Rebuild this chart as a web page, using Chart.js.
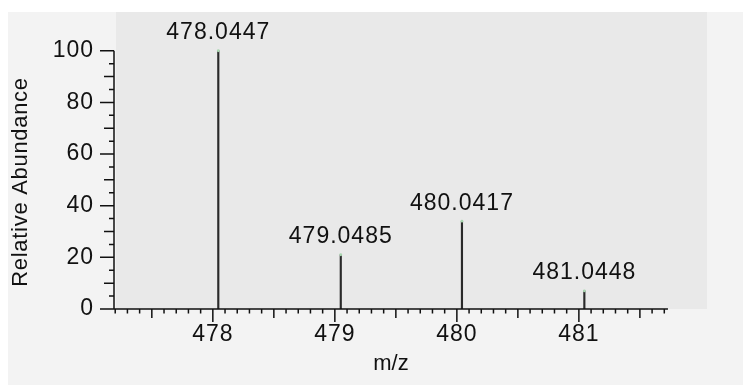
<!DOCTYPE html>
<html>
<head>
<meta charset="utf-8">
<script src="https://cdn.jsdelivr.net/npm/chart.js@4.4.1/dist/chart.umd.min.js"></script>
<style>
  html, body { margin: 0; padding: 0; background: #fff; }
  #wrap { position: relative; width: 743px; height: 385px; }
</style>
</head>
<body>
<div id="wrap"><canvas id="spectrum"></canvas></div>
<script>
// centroided peaks: m/z and relative abundance (%)
const peakMz = [478.0447, 479.0485, 480.0417, 481.0448];
const peakAbundance = [100, 21, 34, 7];

// labelled ticks
const mzTicks = [478, 479, 480, 481];
const abundanceTicks = [0, 20, 40, 60, 80, 100];

// axis extents
const mzMin = 477.19, mzMax = 482.05, mzAxisEnd = 481.73;
const abundanceMax = 115;

const FONT = '"Liberation Sans", Arial, sans-serif';
const INK = '#111111';

// background panels, tick marks, axis lines, titles and peak labels
const spectrumDecor = {
  id: 'spectrumDecor',
  beforeDraw(chart) {
    const ctx = chart.ctx, a = chart.chartArea;
    ctx.letterSpacing = '1px';
    ctx.save();
    ctx.fillStyle = '#ffffff';
    ctx.fillRect(0, 0, chart.width, chart.height);
    ctx.fillStyle = '#f3f3f3';
    ctx.fillRect(8, 12, chart.width - 8, chart.height - 12);
    ctx.fillStyle = '#e9e9e9';
    ctx.fillRect(a.left + 2, a.top, a.right - a.left - 2, a.bottom - a.top);
    ctx.restore();
  },
  afterDraw(chart) {
    const ctx = chart.ctx, a = chart.chartArea;
    const xs = chart.scales.x, ys = chart.scales.y;
    ctx.save();
    ctx.strokeStyle = INK;
    ctx.lineWidth = 1.5;
    ctx.beginPath();
    // y axis: 0..100, ticks every 5
    const yAxisX = a.left;
    ctx.moveTo(yAxisX, ys.getPixelForValue(0));
    ctx.lineTo(yAxisX, ys.getPixelForValue(100));
    for (let v = 0; v <= 100; v += 5) {
      const len = v % 20 === 0 ? 14 : (v % 10 === 0 ? 10 : 5);
      const py = ys.getPixelForValue(v);
      ctx.moveTo(yAxisX - len, py);
      ctx.lineTo(yAxisX, py);
    }
    // x axis: ticks every 0.1
    const xAxisY = a.bottom;
    ctx.moveTo(xs.getPixelForValue(mzMin), xAxisY);
    ctx.lineTo(xs.getPixelForValue(mzAxisEnd), xAxisY);
    for (let k = 4772; k <= 4817; k++) {
      const len = k % 10 === 0 ? 13 : (k % 5 === 0 ? 9 : 4.5);
      const px = xs.getPixelForValue(k / 10);
      ctx.moveTo(px, xAxisY);
      ctx.lineTo(px, xAxisY + len);
    }
    ctx.stroke();

    ctx.fillStyle = INK;
    ctx.textAlign = 'center';
    ctx.textBaseline = 'middle';

    // peak m/z labels
    ctx.font = '23px ' + FONT;
    ctx.letterSpacing = '1px';
    peakMz.forEach((mz, i) => {
      const px = xs.getPixelForValue(mz);
      const py = ys.getPixelForValue(peakAbundance[i]);
      ctx.fillText(mz.toFixed(4), px, py - 18);
    });

    // axis titles
    ctx.font = '22px ' + FONT;
    ctx.letterSpacing = '0px';
    ctx.fillText('m/z', (xs.getPixelForValue(mzMin) + xs.getPixelForValue(mzAxisEnd)) / 2, 364);
    ctx.letterSpacing = '0.7px';
    ctx.translate(21, 182);
    ctx.rotate(-Math.PI / 2);
    ctx.fillText('Relative Abundance', 0, 0);
    ctx.restore();
  }
};

new Chart(document.getElementById('spectrum'), {
  type: 'bar',
  data: {
    datasets: [{
      data: peakMz.map((mz, i) => ({ x: mz, y: peakAbundance[i] })),
      backgroundColor: '#2a2a2a',
      barThickness: 1.5,
      order: 2
    }, {
      type: 'scatter',
      data: peakMz.map((mz, i) => ({ x: mz, y: peakAbundance[i] })),
      pointRadius: 1.4,
      pointBackgroundColor: '#a9d6b0',
      pointBorderWidth: 0,
      order: 1
    }]
  },
  options: {
    responsive: true,
    maintainAspectRatio: false,
    animation: false,
    layout: { padding: { top: 12, right: 36, left: 0, bottom: 0 } },
    plugins: { legend: { display: false }, tooltip: { enabled: false } },
    scales: {
      x: {
        type: 'linear',
        min: mzMin,
        max: mzMax,
        offset: false,
        grid: { display: false, drawTicks: false, offset: false },
        border: { display: false },
        afterBuildTicks(scale) { scale.ticks = mzTicks.map(v => ({ value: v })); },
        afterFit(scale) {
          scale.height = 76;
          scale.paddingLeft = 0;
          scale.paddingRight = 0;
        },
        ticks: {
          color: INK,
          padding: 14,
          maxRotation: 0,
          font: { family: FONT, size: 23, lineHeight: 1 },
          callback: v => String(v)
        }
      },
      y: {
        min: 0,
        max: abundanceMax,
        grid: { display: false, drawTicks: false },
        border: { display: false },
        afterBuildTicks(scale) { scale.ticks = abundanceTicks.map(v => ({ value: v })); },
        afterFit(scale) {
          scale.width = 114;
          scale.paddingTop = 0;
          scale.paddingBottom = 0;
        },
        ticks: {
          color: INK,
          padding: 20,
          font: { family: FONT, size: 23, lineHeight: 1 },
          callback: v => String(v)
        }
      }
    }
  },
  plugins: [spectrumDecor]
});
</script>
</body>
</html>
